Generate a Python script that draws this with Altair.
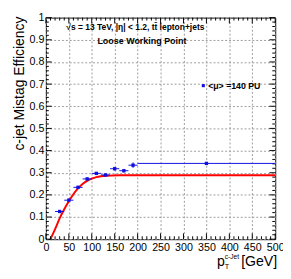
import altair as alt
import pandas as pd

# ---- data ----
x_center = [30, 50, 70, 90, 110, 130, 150, 170, 190, 350]
x_low = [20, 40, 60, 80, 100, 120, 140, 160, 180, 200]
x_high = [40, 60, 80, 100, 120, 140, 160, 180, 200, 500]
eff = [0.125, 0.176, 0.234, 0.272, 0.297, 0.290, 0.318, 0.309, 0.334, 0.342]
eff_err = [0.006, 0.007, 0.007, 0.006, 0.006, 0.005, 0.008, 0.008, 0.012, 0.006]

fit_x = [10, 20, 30, 40, 50, 60, 70, 80, 90, 100, 110, 120, 140, 160, 200, 500]
fit_y = [0.0, 0.045, 0.094, 0.135, 0.171, 0.203, 0.229, 0.249, 0.263, 0.273,
         0.280, 0.284, 0.287, 0.289, 0.289, 0.289]

x_major = list(range(0, 501, 50))
x_minor = [v for v in range(0, 501, 10) if v % 50]
y_major = [i / 10 for i in range(11)]
y_minor = [i / 50 for i in range(51) if i % 5]

W, H = 236, 228
FONT = "Liberation Sans"
BLUE = "#1010e0"

pts = pd.DataFrame({"x": x_center, "lo": x_low, "hi": x_high, "y": eff, "e": eff_err})
fit = pd.DataFrame({"x": fit_x, "y": fit_y})

xs = alt.Scale(domain=[0, 500], nice=False, zero=False)
ys = alt.Scale(domain=[0, 1], nice=False, zero=False)

x_axis = alt.Axis(values=x_major, title=None, grid=True, gridColor="#9a9a9a",
                  gridDash=[2, 2], ticks=False, domain=False, labelFont=FONT,
                  labelFontSize=11, labelColor="black", labelPadding=3,
                  labelFlush=False, labelOverlap=False, format="d")
y_axis = alt.Axis(values=y_major, title=None, grid=True,
                  gridColor="#9a9a9a", gridDash=[2, 2], ticks=False, domain=False,
                  labelFont=FONT, labelFontSize=11, labelColor="black", labelPadding=2,
                  labelOverlap=False, format=".1~f", labelFlush=False)

def X(f):
    return alt.X(f, scale=xs, axis=x_axis)

def Y(f):
    return alt.Y(f, scale=ys, axis=y_axis)

fit_line = alt.Chart(fit).mark_line(color="#ff0000", strokeWidth=2, interpolate="monotone").encode(
    x=X("x:Q"), y=Y("y:Q"),
)

xbars = alt.Chart(pts).mark_rule(color=BLUE, strokeWidth=1).encode(
    x=X("lo:Q"), x2="hi:Q", y=Y("y:Q"),
)
ybars = alt.Chart(pts).transform_calculate(
    ylo="datum.y - datum.e", yhi="datum.y + datum.e"
).mark_rule(color=BLUE, strokeWidth=1).encode(
    x=X("x:Q"), y=Y("ylo:Q"), y2="yhi:Q",
)
markers = alt.Chart(pts).mark_square(color=BLUE, size=12, opacity=1).encode(
    x=X("x:Q"), y=Y("y:Q"),
)

def xticks(vals, length):
    d = pd.DataFrame({"v": vals})
    bot = alt.Chart(d).mark_rule(color="black", strokeWidth=1).encode(
        x=X("v:Q"), y=alt.value(H), y2=alt.value(H - length))
    top = alt.Chart(d).mark_rule(color="black", strokeWidth=1).encode(
        x=X("v:Q"), y=alt.value(0), y2=alt.value(length))
    return [bot, top]

def yticks(vals, length):
    d = pd.DataFrame({"v": vals})
    left = alt.Chart(d).mark_rule(color="black", strokeWidth=1).encode(
        y=Y("v:Q"), x=alt.value(0), x2=alt.value(length))
    right = alt.Chart(d).mark_rule(color="black", strokeWidth=1).encode(
        y=Y("v:Q"), x=alt.value(W), x2=alt.value(W - length))
    return [left, right]

tick_layers = xticks(x_major, 6) + xticks(x_minor, 3) + yticks(y_major, 6) + yticks(y_minor, 3)

def label(txt, x, y, size, weight="normal", align="left", baseline="alphabetic", angle=0):
    return alt.Chart(pd.DataFrame({"t": [txt]})).mark_text(
        font=FONT, fontSize=size, fontWeight=weight, align=align, baseline=baseline,
        color="black", angle=angle
    ).encode(x=alt.value(x), y=alt.value(y), text="t:N")

texts = [
    label("c-jet Mistag Efficiency", -23, -1, 14.3, align="right", angle=270),
    label("\u221As = 13 TeV, |\u03b7| < 1.2, tt\u0304 lepton+jets", 21, 12.5, 8.7, "bold"),
    label("Loose Working Point", 53, 27, 9.2, "bold"),
    label("<\u03bc> =140 PU", 167, 70.5, 9, "bold", baseline="middle"),
    label("p", 176, 256, 14.5),
    label("c-Jet", 184, 248, 6.8),
    label("T", 184, 259, 7.5),
    label("[GeV]", 238, 256, 14.5, align="right"),
]

legend_pt = alt.Chart(pd.DataFrame({"t": ["m"]})).mark_square(color=BLUE, size=10, opacity=1).encode(
    x=alt.value(162), y=alt.value(70))

chart = alt.layer(
    fit_line, *tick_layers, xbars, ybars, markers, legend_pt, *texts
).properties(
    width=W, height=H,
    autosize=alt.AutoSizeParams(type="none"),
    padding={"left": 39, "top": 6, "right": 8, "bottom": 35},
).configure_view(stroke="black", strokeWidth=1)

chart.save("out.html", embed_options={"renderer": "svg", "actions": False})
